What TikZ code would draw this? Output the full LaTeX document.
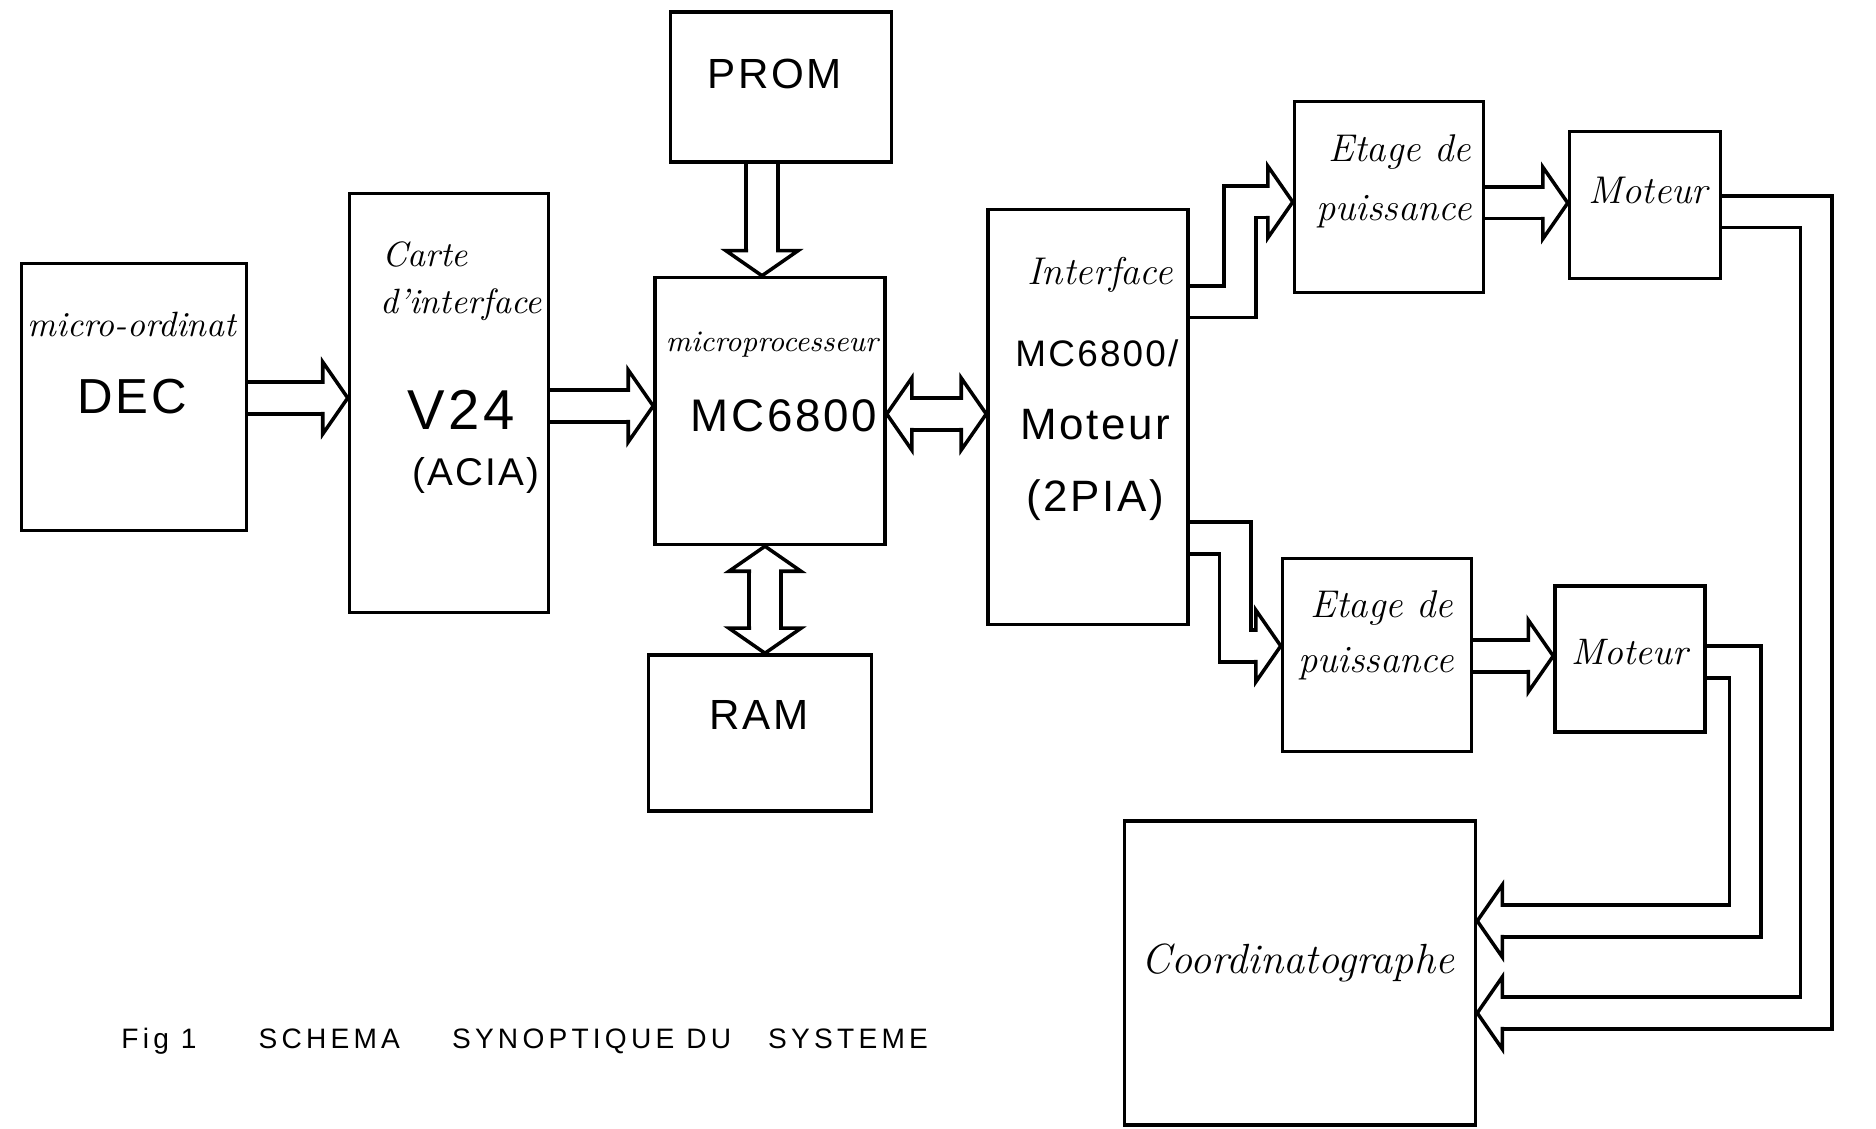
\documentclass[tikz,border=0pt]{standalone}
\usepackage{fontspec}
\newfontfamily\capsfont[LetterSpace=6]{Liberation Sans}
\newfontfamily\legendefont[LetterSpace=15]{Liberation Sans}
\usetikzlibrary{calc,backgrounds}

\tikzset{
  bloc/.style={draw, inner sep=0pt},
  bus/.style={double, double distance=0.28cm},
  bushead/.pic={
    \draw (-0.25,0.14) -- (-0.25,0.36) -- (0,0) -- (-0.25,-0.36) -- (-0.25,-0.14);
  },
  ecrit/.style={font=\itshape\fontsize{#1}{#1}\selectfont},
  lettre/.style={font=\capsfont\fontsize{#1}{#1}\selectfont},
}

\begin{document}
\begin{tikzpicture}[line width=1pt]
\useasboundingbox (0,0) rectangle (18.76,11.29);

% blocs
\node[bloc, minimum width=2.25cm, minimum height=2.67cm] (dec) at (1.34,7.32) {};
\node[bloc, minimum width=1.99cm, minimum height=4.19cm] (v24) at (4.49,7.26) {};
\node[bloc, minimum width=2.30cm, minimum height=2.67cm] (micro) at (7.70,7.18) {};
\node[bloc, minimum width=2.21cm, minimum height=1.50cm] (prom) at (7.81,10.42) {};
\node[bloc, minimum width=2.23cm, minimum height=1.56cm] (ram) at (7.60,3.96) {};
\node[bloc, minimum width=2.00cm, minimum height=4.15cm] (interf) at (10.88,7.12) {};
\node[bloc, minimum width=1.89cm, minimum height=1.91cm] (etage1) at (13.89,9.32) {};
\node[bloc, minimum width=1.51cm, minimum height=1.47cm] (moteur1) at (16.45,9.24) {};
\node[bloc, minimum width=1.89cm, minimum height=1.93cm] (etage2) at (13.77,4.74) {};
\node[bloc, minimum width=1.50cm, minimum height=1.46cm] (moteur2) at (16.30,4.70) {};
\node[bloc, minimum width=3.51cm, minimum height=3.04cm] (coord) at (13.00,1.56) {};

% textes des blocs
\node[ecrit=10] (dec-a) at (1.32,8.04) {micro-ordinat};
\node[lettre=14] (dec-b) at (1.32,7.32) {DEC};
\node[ecrit=10] (v24-a) at (4.25,8.74) {Carte};
\node[ecrit=10] (v24-b) at (4.61,8.24) {d'interface};
\node[lettre=16] (v24-c) at (4.61,7.19) {V24};
\node[lettre=11] (v24-d) at (4.76,6.53) {(ACIA)};
\node[ecrit=8.5] (micro-a) at (7.72,7.84) {microprocesseur};
\node[lettre=13] (micro-b) at (7.84,7.13) {MC6800};
\node[lettre=12] (prom-a) at (7.75,10.55) {PROM};
\node[lettre=12] (ram-a) at (7.59,4.14) {RAM};
\node[ecrit=11] (interf-a) at (11.00,8.54) {Interface};
\node[lettre=10.5] (interf-b) at (10.97,7.76) {MC6800/};
\node[lettre=12.5] (interf-c) at (10.95,7.04) {Moteur};
\node[lettre=12.5] (interf-d) at (10.95,6.29) {(2PIA)};
\node[ecrit=11] (etage1-a) at (14.00,9.77) {Etage de};
\node[ecrit=11] (etage1-b) at (13.94,9.17) {puissance};
\node[ecrit=11] (moteur1-a) at (16.48,9.38) {Moteur};
\node[ecrit=11] (etage2-a) at (13.82,5.21) {Etage de};
\node[ecrit=11] (etage2-b) at (13.76,4.65) {puissance};
\node[ecrit=10.5] (moteur2-a) at (16.30,4.77) {Moteur};
\node[ecrit=12] (coord-a) at (12.98,1.66) {Coordinatographe};

% legende
\node[anchor=west, font=\legendefont\fontsize{8}{8}\selectfont] (legende) at (1.08,0.88)
  {Fig 1 \hspace{0.5cm}SCHEMA \hspace{0.4cm}SYNOPTIQUE DU \hspace{0.25cm}SYSTEME};

\begin{scope}[on background layer={line width=1pt}]
% bus droits
\draw[bus] (dec.east |- 0,7.31) -- ($(v24.west |- 0,7.31)+(-0.25,0)$);
\pic at (v24.west |- 0,7.31) {bushead};
\draw[bus] (v24.east |- 0,7.23) -- ($(micro.west |- 0,7.23)+(-0.25,0)$);
\pic at (micro.west |- 0,7.23) {bushead};
\draw[bus] (prom.south -| 7.62,0) -- ($(micro.north -| 7.62,0)+(0,0.25)$);
\pic[rotate=-90] at (micro.north -| 7.62,0) {bushead};
\draw[bus] ($(micro.south -| 7.65,0)+(0,-0.25)$) -- ($(ram.north -| 7.65,0)+(0,0.25)$);
\pic[rotate=90] at (micro.south -| 7.65,0) {bushead};
\pic[rotate=-90] at (ram.north -| 7.65,0) {bushead};
\draw[bus] ($(micro.east |- 0,7.15)+(0.25,0)$) -- ($(interf.west |- 0,7.15)+(-0.25,0)$);
\pic[rotate=180] at (micro.east |- 0,7.15) {bushead};
\pic at (interf.west |- 0,7.15) {bushead};
\draw[bus] (etage1.east |- 0,9.26) -- ($(moteur1.west |- 0,9.26)+(-0.25,0)$);
\pic at (moteur1.west |- 0,9.26) {bushead};
\draw[bus] (etage2.east |- 0,4.73) -- ($(moteur2.west |- 0,4.73)+(-0.25,0)$);
\pic at (moteur2.west |- 0,4.73) {bushead};

% interface vers etages
\draw[bus] (interf.east |- 0,8.27) -| (12.40,9.27) -- ($(etage1.west |- 0,9.27)+(-0.25,0)$);
\pic at (etage1.west |- 0,9.27) {bushead};
\draw[bus] (interf.east |- 0,5.91) -| (12.35,4.83) -- ($(etage2.west |- 0,4.83)+(-0.25,0)$);
\pic at (etage2.west |- 0,4.83) {bushead};

% moteurs vers coordinatographe
\draw[bus] (moteur1.east |- 0,9.17) -| (18.16,1.16) -- ($(coord.east |- 0,1.16)+(0.25,0)$);
\pic[rotate=180] at (coord.east |- 0,1.16) {bushead};
\draw[bus] (moteur2.east |- 0,4.67) -| (17.45,2.08) -- ($(coord.east |- 0,2.08)+(0.25,0)$);
\pic[rotate=180] at (coord.east |- 0,2.08) {bushead};
\end{scope}

\end{tikzpicture}
\end{document}
